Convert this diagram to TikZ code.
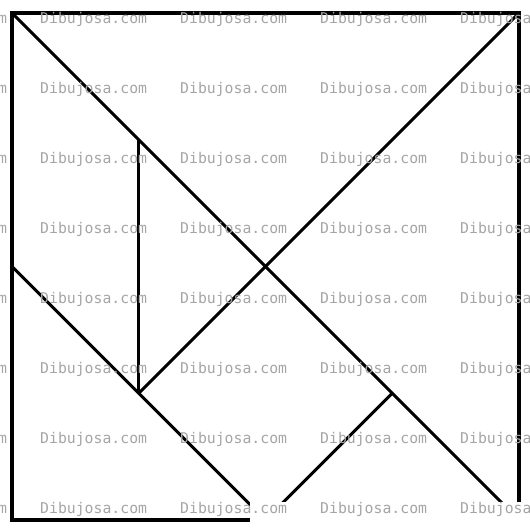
\documentclass[tikz,border=0pt]{standalone}
\usepackage{fontspec}
\newfontfamily\wmfont{DejaVu Sans Mono}
\definecolor{wmgray}{RGB}{165,165,165}

\begin{document}
\begin{tikzpicture}[x=1pt, y=1pt]
\useasboundingbox (0,0) rectangle (530,531);
\clip (0,0) rectangle (530,531);
% tangram corners and cut points
\coordinate (A) at (12,518);
\coordinate (B) at (519,518);
\coordinate (C) at (519,11);
\coordinate (D) at (12,11);
\coordinate (O) at (265.5,264.5);
\coordinate (P) at (138.75,391.25);
\coordinate (Q) at (138.75,137.75);
\coordinate (R) at (392.25,137.75);
\coordinate (L) at (12,264.5);
\coordinate (M) at (265.5,11);
\draw[black, line width=4pt](A) rectangle (C);
\draw[black, line width=3pt](A)--(C);
\draw[black, line width=3pt](B)--(Q);
\draw[black, line width=3pt](P)--(Q);
\draw[black, line width=3pt](L)--(M);
\draw[black, line width=3pt](R)--(M);
% cut-off corner
\fill[white](250,0) rectangle (531,29);
% watermark
\foreach \y in {0,1,...,7}{
	\foreach \x in {-100,40,180,320,460}{
		\node[anchor=base west, inner sep=0pt, text=wmgray, font=\wmfont\fontsize{14.8}{16}\selectfont] at (\x,507-70*\y) {Dibujosa.com};
	}
}
\end{tikzpicture}
\end{document}
